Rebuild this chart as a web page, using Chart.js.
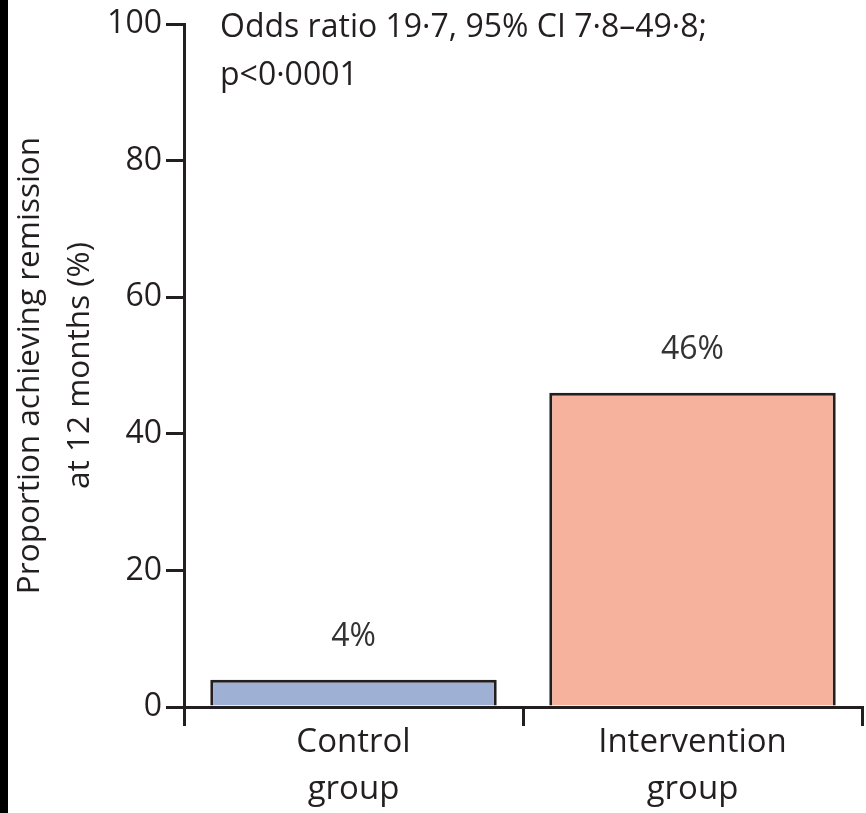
<!DOCTYPE html>
<html lang="en">
<head>
    <meta charset="UTF-8">
    <title>Remission at 12 months</title>
    <script src="https://cdn.jsdelivr.net/npm/chart.js"></script>
    <style>
        body { margin: 0; background: #000; }
        #wrap { margin-left: 8px; width: 858px; height: 813px; background: #fff; }
    </style>
</head>
<body>
    <div id="wrap"><canvas id="remissionChart" width="858" height="813"></canvas></div>
    <script>
        // values
        const groups = [['Control', 'group'], ['Intervention', 'group']];
        const remission = [4, 46];
        const valueLabels = ['4%', '46%'];
        const yTicks = [0, 20, 40, 60, 80, 100];
        const yTitle = ['Proportion achieving remission', 'at 12 months (%)'];
        const statsNote = ['Odds ratio 19·7, 95% CI 7·8–49·8;', 'p<0·0001'];

        const ink = '#231f20';
        const fontFamily = "'Open Sans', sans-serif";

        // percentage above each bar + the odds ratio note
        const textPlugin = {
            id: 'textPlugin',
            afterDatasetsDraw(chart) {
                const ctx = chart.ctx;
                const bars = chart.getDatasetMeta(0).data;
                ctx.save();
                ctx.fillStyle = '#333';
                ctx.font = '32px ' + fontFamily;
                ctx.textAlign = 'center';
                ctx.textBaseline = 'middle';
                bars.forEach((bar, i) => {
                    ctx.fillText(valueLabels[i], bar.x, bar.y - 43);
                });
                ctx.fillStyle = ink;
                ctx.textAlign = 'left';
                ctx.textBaseline = 'alphabetic';
                ctx.font = '32px ' + fontFamily;
                const area = chart.chartArea;
                statsNote.forEach((line, i) => {
                    ctx.fillText(line, area.left + 36, area.top + 13 + i * 48);
                });
                ctx.restore();
            }
        };

        const ctx = document.getElementById('remissionChart').getContext('2d');
        const remissionChart = new Chart(ctx, {
            type: 'bar',
            data: {
                labels: groups,
                datasets: [{
                    data: remission,
                    backgroundColor: ['#9eb0d3', '#f7b29e'],
                    borderColor: ink,
                    borderWidth: 3,
                    barPercentage: 0.845,
                    categoryPercentage: 1
                }]
            },
            options: {
                responsive: false,
                animation: false,
                layout: { padding: { top: 24, right: 4, left: 0, bottom: 0 } },
                plugins: { legend: { display: false }, tooltip: { enabled: false } },
                scales: {
                    x: {
                        offset: true,
                        grid: { offset: true, drawOnChartArea: false, drawTicks: true, tickLength: 19, color: ink, lineWidth: 3 },
                        border: { display: true, color: ink, width: 3 },
                        ticks: { color: ink, padding: -7, font: { family: fontFamily, size: 33, lineHeight: 1.42 } },
                        afterFit(scale) { scale.height = 106; }
                    },
                    y: {
                        min: 0,
                        max: 100,
                        afterBuildTicks(scale) { scale.ticks = yTicks.map(v => ({ value: v })); },
                        grid: { drawOnChartArea: false, drawTicks: true, tickLength: 18, color: ink, lineWidth: 3 },
                        border: { display: true, color: ink, width: 3 },
                        ticks: { color: ink, padding: 4, font: { family: fontFamily, size: 32 } },
                        title: {
                            display: true,
                            text: yTitle,
                            color: ink,
                            padding: { top: -3, bottom: 0 },
                            font: { family: fontFamily, size: 31.5, lineHeight: 1.58 }
                        },
                        afterFit(scale) { scale.width = 176; }
                    }
                }
            },
            plugins: [textPlugin]
        });
    </script>
</body>
</html>
